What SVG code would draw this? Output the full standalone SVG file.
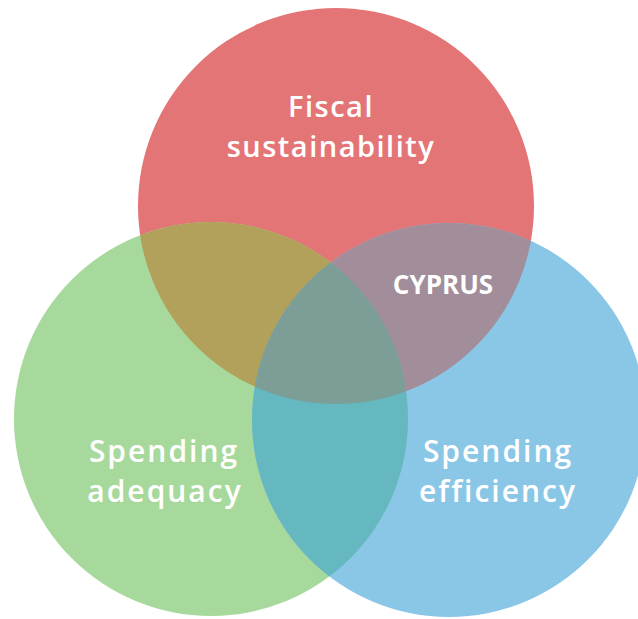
<svg xmlns="http://www.w3.org/2000/svg" width="638" height="619" viewBox="0 0 638 619">
<style>
.lbl{font-family:"Open Sans",Lato,"Liberation Sans",sans-serif;font-size:29px;font-weight:600;fill:#ffffff;text-anchor:middle;letter-spacing:1.5px}
.lbl2{font-size:30px;letter-spacing:2px}
.cy{font-family:"Open Sans","Liberation Sans",sans-serif;font-size:26px;font-weight:bold;fill:#ffffff;text-anchor:middle}
</style>
<defs>
<clipPath id="cR"><circle cx="336" cy="206" r="198"/></clipPath>
<clipPath id="cG"><circle cx="211" cy="419" r="197"/></clipPath>
<clipPath id="cB"><circle cx="449" cy="420" r="197"/></clipPath>
</defs>
<rect width="638" height="619" fill="#ffffff"/>
<g id="fiscal-sustainability">
<circle cx="336" cy="206" r="198" fill="#E47576"/>
</g>
<g id="spending-adequacy">
<circle cx="211" cy="419" r="197" fill="#A8D99C"/>
</g>
<g id="spending-efficiency">
<circle cx="449" cy="420" r="197" fill="#8AC7E7"/>
</g>
<g id="overlaps">
<g clip-path="url(#cR)"><circle cx="211" cy="419" r="197" fill="#B1A15A"/></g>
<g clip-path="url(#cR)"><circle cx="449" cy="420" r="197" fill="#A28D9A"/></g>
<g clip-path="url(#cG)"><circle cx="449" cy="420" r="197" fill="#65B8BF"/></g>
<g clip-path="url(#cR)"><g clip-path="url(#cG)"><circle cx="449" cy="420" r="197" fill="#7C9E97"/></g></g>
</g>
<g id="labels">
<text class="lbl" x="331" y="117">Fiscal</text>
<text class="lbl" x="331" y="157">sustainability</text>
<text class="lbl lbl2" x="164" y="462">Spending</text>
<text class="lbl lbl2" x="165" y="502">adequacy</text>
<text class="lbl lbl2" x="498" y="462">Spending</text>
<text class="lbl lbl2" x="498" y="502">efficiency</text>
<text class="cy" x="443" y="294">CYPRUS</text>
</g>
</svg>
